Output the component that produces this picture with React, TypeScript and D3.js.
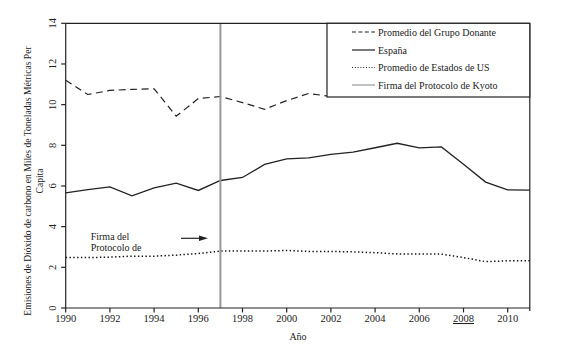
import React from "react";
import * as d3 from "d3";

const years = d3.range(1990, 2012);
const donanteYears = [1990, 1991, 1992, 1993, 1994, 1995, 1996, 1997, 1998, 1999, 2000, 2001, 2002];
const donante = [11.2, 10.5, 10.7, 10.75, 10.78, 9.43, 10.3, 10.4, 10.1, 9.77, 10.2, 10.55, 10.4];
const espana = [5.66, 5.82, 5.96, 5.52, 5.91, 6.14, 5.78, 6.27, 6.42, 7.06, 7.33, 7.38, 7.55, 7.66, 7.88, 8.1, 7.87, 7.92, 7.07, 6.19, 5.81, 5.8];
const usa = [2.48, 2.48, 2.5, 2.55, 2.55, 2.6, 2.68, 2.8, 2.8, 2.8, 2.83, 2.78, 2.78, 2.76, 2.72, 2.66, 2.65, 2.65, 2.48, 2.28, 2.32, 2.32];
const kyotoYear = 1997;
const xTicks = [1990, 1992, 1994, 1996, 1998, 2000, 2002, 2004, 2006, 2008, 2010];
const yTicks = [0, 2, 4, 6, 8, 10, 12, 14];
const legendLabels = [
  "Promedio del Grupo Donante",
  "España",
  "Promedio de Estados de US",
  "Firma del Protocolo de Kyoto",
];
const yTitle1 = "Emisiones de Dióxido de carbono en Miles de Toneladas Métricas Per";
const yTitle2 = "Capita";
const xTitle = "Año";
const annot = ["Firma del", "Protocolo de"];

const FONT = "'Liberation Serif', 'DejaVu Serif', serif";
const INK = "#222";

export default function App() {
  const x = d3.scaleLinear().domain([1990, 2011]).range([65.7, 529.8]);
  const y = d3.scaleLinear().domain([0, 14]).range([308, 23.3]);
  const line = d3
    .line<[number, number]>()
    .x((d) => x(d[0]))
    .y((d) => y(d[1]));

  const dPath = line(donanteYears.map((yr, i) => [yr, donante[i]]));
  const ePath = line(years.map((yr, i) => [yr, espana[i]]));
  const uPath = line(years.map((yr, i) => [yr, usa[i]]));

  const x0 = x(1990);
  const x1 = x(2011);
  const yb = y(0);
  const yt = y(14);
  const kx = x(kyotoYear);

  const legX = 327;
  const legY = yt;
  const legW = x1 - legX;
  const legH = 73.7;
  const legRows = [32, 50, 67.5, 85];

  return (
    <svg
      width={565}
      height={355}
      style={{ position: "absolute", left: 0, top: 0, background: "#fff" }}
      fontFamily={FONT}
    >
      <rect x={0} y={0} width={565} height={355} fill="#fff" />
      {/* data lines */}
      <path d={uPath || ""} fill="none" stroke="#111" strokeWidth={1.5} strokeDasharray="1.4,2.4" />
      <path d={ePath || ""} fill="none" stroke={INK} strokeWidth={1.3} />
      <path d={dPath || ""} fill="none" stroke={INK} strokeWidth={1.2} strokeDasharray="7,4.5" />
      {/* Kyoto line */}
      <line x1={kx} x2={kx} y1={yt} y2={yb} stroke="#999" strokeWidth={2} />

      {/* frame */}
      <line x1={x0} x2={x1} y1={yt} y2={yt} stroke={INK} strokeWidth={1.2} />
      <line x1={x1} x2={x1} y1={yt} y2={yb + 3} stroke={INK} strokeWidth={1.2} />
      <line x1={x0} x2={x0} y1={yt} y2={yb} stroke={INK} strokeWidth={1.2} />
      <line x1={x0} x2={x1} y1={yb} y2={yb} stroke={INK} strokeWidth={1.2} />

      {/* y ticks */}
      {yTicks.map((t) => (
        <g key={"y" + t}>
          <line x1={x0 - 4.5} x2={x0} y1={y(t)} y2={y(t)} stroke={INK} strokeWidth={1.2} />
          <text
            transform={`translate(52,${y(t)}) rotate(-90)`}
            textAnchor="middle"
            dominantBaseline="central"
            fontSize={10.5}
            fill={INK}
          >
            {t}
          </text>
        </g>
      ))}
      {/* x ticks */}
      {xTicks.map((t) => (
        <g key={"x" + t}>
          <line x1={x(t)} x2={x(t)} y1={yb} y2={yb + 4.5} stroke={INK} strokeWidth={1.2} />
          <text
            x={x(t)}
            y={322}
            textAnchor="middle"
            fontSize={10.5}
            fill={INK}
            textDecoration={t === 2008 ? "underline" : undefined}
          >
            {t}
          </text>
        </g>
      ))}

      {/* axis titles */}
      <text x={298} y={340} textAnchor="middle" fontSize={10} fill={INK}>
        {xTitle}
      </text>
      <text
        transform="translate(27,181) rotate(-90)"
        textAnchor="middle"
        dominantBaseline="central"
        fontSize={9.6}
        fill={INK}
      >
        {yTitle1}
      </text>
      <text
        transform="translate(39,181) rotate(-90)"
        textAnchor="middle"
        dominantBaseline="central"
        fontSize={9.6}
        fill={INK}
      >
        {yTitle2}
      </text>

      {/* annotation */}
      <text x={90.7} y={240} fontSize={10} fill={INK}>
        {annot[0]}
      </text>
      <text x={90.7} y={251} fontSize={10} fill={INK}>
        {annot[1]}
      </text>
      <line x1={181} x2={200} y1={238.3} y2={238.3} stroke={INK} strokeWidth={1.2} />
      <path d="M199,235.5 L208,238.3 L199,241.1 Z" fill={INK} />

      {/* legend */}
      <rect x={legX} y={legY} width={legW} height={legH} fill="#fff" stroke={INK} strokeWidth={1.2} />
      {legendLabels.map((lab, i) => {
        const ry = legRows[i];
        const common = { x1: 352, x2: 375, y1: ry, y2: ry };
        let sample;
        if (i === 0) sample = <line {...common} stroke={INK} strokeWidth={1.1} strokeDasharray="4,2.4" />;
        else if (i === 1) sample = <line {...common} stroke={INK} strokeWidth={1.2} />;
        else if (i === 2) sample = <line {...common} stroke={INK} strokeWidth={1} strokeDasharray="1,1.8" />;
        else sample = <line {...common} stroke="#999" strokeWidth={1.2} />;
        return (
          <g key={lab}>
            {sample}
            <text x={378} y={ry} dominantBaseline="central" fontSize={10} fill={INK}>
              {lab}
            </text>
          </g>
        );
      })}
    </svg>
  );
}
